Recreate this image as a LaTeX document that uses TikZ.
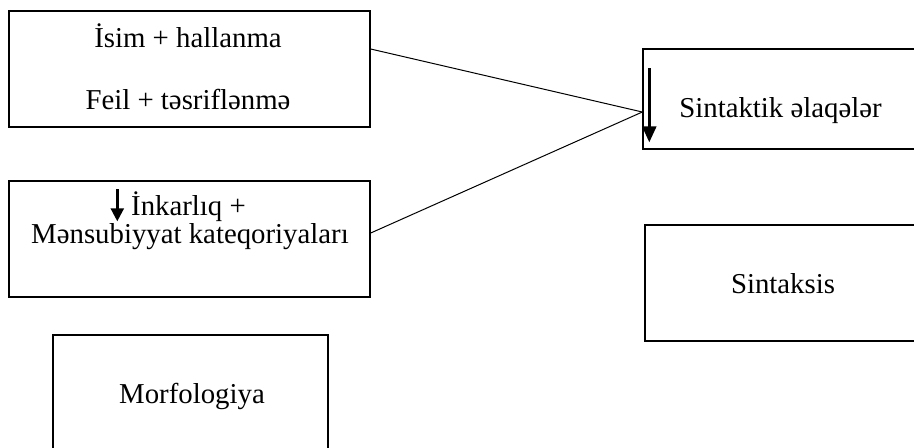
\documentclass[tikz,border=0pt]{standalone}
\usepackage{fontspec}
\setmainfont{Liberation Serif}
\usetikzlibrary{arrows.meta}
\tikzset{
  box/.style={draw,line width=0.7pt,inner sep=0pt},
  txt/.style={anchor=base,inner sep=0pt},
  pil/.style={line width=1.2pt,-{Triangle[width=7pt,length=8pt]}},
}
\begin{document}
\begin{tikzpicture}[x=0.5pt,y=-0.5pt]
\fontsize{14.4}{17}\selectfont
\clip (0,0) rectangle (914,447);
% left column
\node[box,minimum width=180.5pt,minimum height=58pt] (hal) at (189.5,69) {};
\node[box,minimum width=180.5pt,minimum height=58pt] (kat) at (189.5,239) {};
\node[box,minimum width=137.5pt,minimum height=60pt] (morf) at (190.5,395) {};
\node[txt] (isim) at (188,47) {İsim + hallanma};
\node[txt] (feil) at (188,109) {Feil + təsriflənmə};
\node[txt] (inkar) at (188.5,215) {İnkarlıq +};
\node[txt] (mens) at (190,243) {Mənsubiyyat kateqoriyaları};
\node[txt] (morft) at (192,403) {Morfologiya};
% right column
\node[box,minimum width=137pt,minimum height=50pt] (elaqe) at (780,99) {};
\node[box,minimum width=138pt,minimum height=58pt] (sint) at (783,283) {};
\node[txt] (elaqet) at (780.5,117) {Sintaktik əlaqələr};
\node[txt] (sintt) at (783,293) {Sintaksis};
% lines
\coordinate (meet) at ([yshift=-6.5pt]elaqe.west);
\draw[line width=0.5pt] ([yshift=10pt]hal.east) -- (meet);
\draw[line width=0.5pt] ([yshift=3pt]kat.east) -- (meet);
% arrows
\coordinate (a1) at ([shift={(7,20)}]elaqe.north west);
\coordinate (a2) at ([shift={(7,94)}]elaqe.north west);
\draw[pil] (a1) -- (a2);
\coordinate (b1) at ([shift={(109,9)}]kat.north west);
\coordinate (b2) at ([shift={(109,41)}]kat.north west);
\draw[pil,-{Triangle[width=6.5pt,length=6.5pt]}] (b1) -- (b2);
\end{tikzpicture}
\end{document}
